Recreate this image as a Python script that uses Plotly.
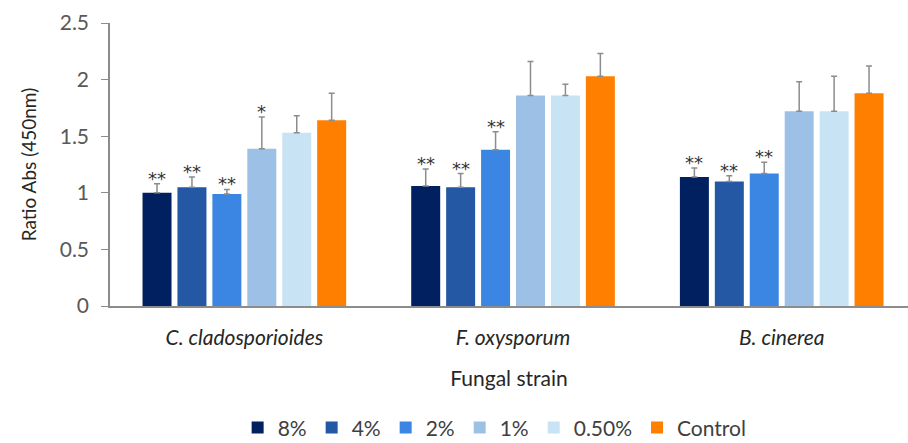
import plotly.graph_objects as go

# Fungal strains (x categories)
strains = ["<i>C. cladosporioides</i>", "<i>F. oxysporum</i>", "<i>B. cinerea</i>"]

# Treatment series
series_names = ["8%", "4%", "2%", "1%", "0.50%", "Control"]
colors = ["#002060", "#2457A4", "#3B86E3", "#9DC1E6", "#C8E3F4", "#FF8000"]

# Mean ratio values per series (one per strain)
val_8 = [1.00, 1.06, 1.14]
val_4 = [1.05, 1.05, 1.10]
val_2 = [0.99, 1.38, 1.17]
val_1 = [1.39, 1.86, 1.72]
val_05 = [1.53, 1.86, 1.72]
val_ctrl = [1.64, 2.03, 1.88]

# Upper error bar lengths
err_8 = [0.08, 0.15, 0.08]
err_4 = [0.09, 0.12, 0.05]
err_2 = [0.04, 0.16, 0.10]
err_1 = [0.28, 0.30, 0.26]
err_05 = [0.15, 0.10, 0.31]
err_ctrl = [0.24, 0.20, 0.24]

# Significance marks
sig_8 = ["**", "**", "**"]
sig_4 = ["**", "**", "**"]
sig_2 = ["**", "**", "**"]
sig_1 = ["*", "", ""]
sig_05 = ["", "", ""]
sig_ctrl = ["", "", ""]

values = [val_8, val_4, val_2, val_1, val_05, val_ctrl]
errors = [err_8, err_4, err_2, err_1, err_05, err_ctrl]
sigs = [sig_8, sig_4, sig_2, sig_1, sig_05, sig_ctrl]

BARGAP = 0.22
BARGROUPGAP = 0.17
FONT = "Lato, Open Sans, sans-serif"

fig = go.Figure()
for name, col, v, e in zip(series_names, colors, values, errors):
    fig.add_trace(go.Bar(
        name=name, x=strains, y=v, marker_color=col, marker_line_width=0,
        error_y=dict(type="data", array=e, symmetric=False, arrayminus=[0] * len(e),
                     color="#8C8C8C", thickness=1.5, width=3),
    ))

# Star annotations above each error bar, placed at the bar's offset within its group
n = len(series_names)
slot = (1 - BARGAP) / n
annotations = []
for i, (v, e, s) in enumerate(zip(values, errors, sigs)):
    for j in range(len(strains)):
        if not s[j]:
            continue
        xpos = j - (1 - BARGAP) / 2 + slot * (i + 0.5)
        annotations.append(dict(
            x=xpos, y=v[j] + e[j], xref="x", yref="y", text=s[j], showarrow=False,
            yanchor="bottom", yshift=-7, font=dict(family="DejaVu Sans", size=18, color="#333333"),
        ))

fig.update_layout(
    width=908, height=443,
    margin=dict(l=110, r=0, t=23, b=137),
    paper_bgcolor="white", plot_bgcolor="white",
    barmode="group", bargap=BARGAP, bargroupgap=BARGROUPGAP,
    font=dict(family=FONT, color="#404040"),
    annotations=annotations,
    showlegend=True,
    legend=dict(orientation="h", x=0.482, xanchor="center",
                yref="container", y=0.034, yanchor="middle",
                font=dict(family=FONT, size=21, color="#404040"),
                itemwidth=30, traceorder="normal"),
    xaxis=dict(
        range=[-0.5, 2.47], showline=True, linecolor="#8C8C8C", linewidth=1.5,
        ticks="", ticklabelstandoff=12,
        tickfont=dict(family=FONT, size=21, color="#262626"),
        title=dict(text="Fungal strain", font=dict(family=FONT, size=21, color="#262626"),
                   standoff=23),
    ),
    yaxis=dict(
        range=[0, 2.5], dtick=0.5, showgrid=False, zeroline=False,
        showline=True, linecolor="#8C8C8C", linewidth=1.5,
        ticks="outside", ticklen=7, tickcolor="#8C8C8C",
        tickformat="~g", ticklabelstandoff=8,
        tickfont=dict(family=FONT, size=21, color="#595959"),
        title=dict(text="Ratio Abs (450nm)", font=dict(family=FONT, size=19, color="#262626"),
                   standoff=18),
    ),
)

fig.write_html("out.html")
